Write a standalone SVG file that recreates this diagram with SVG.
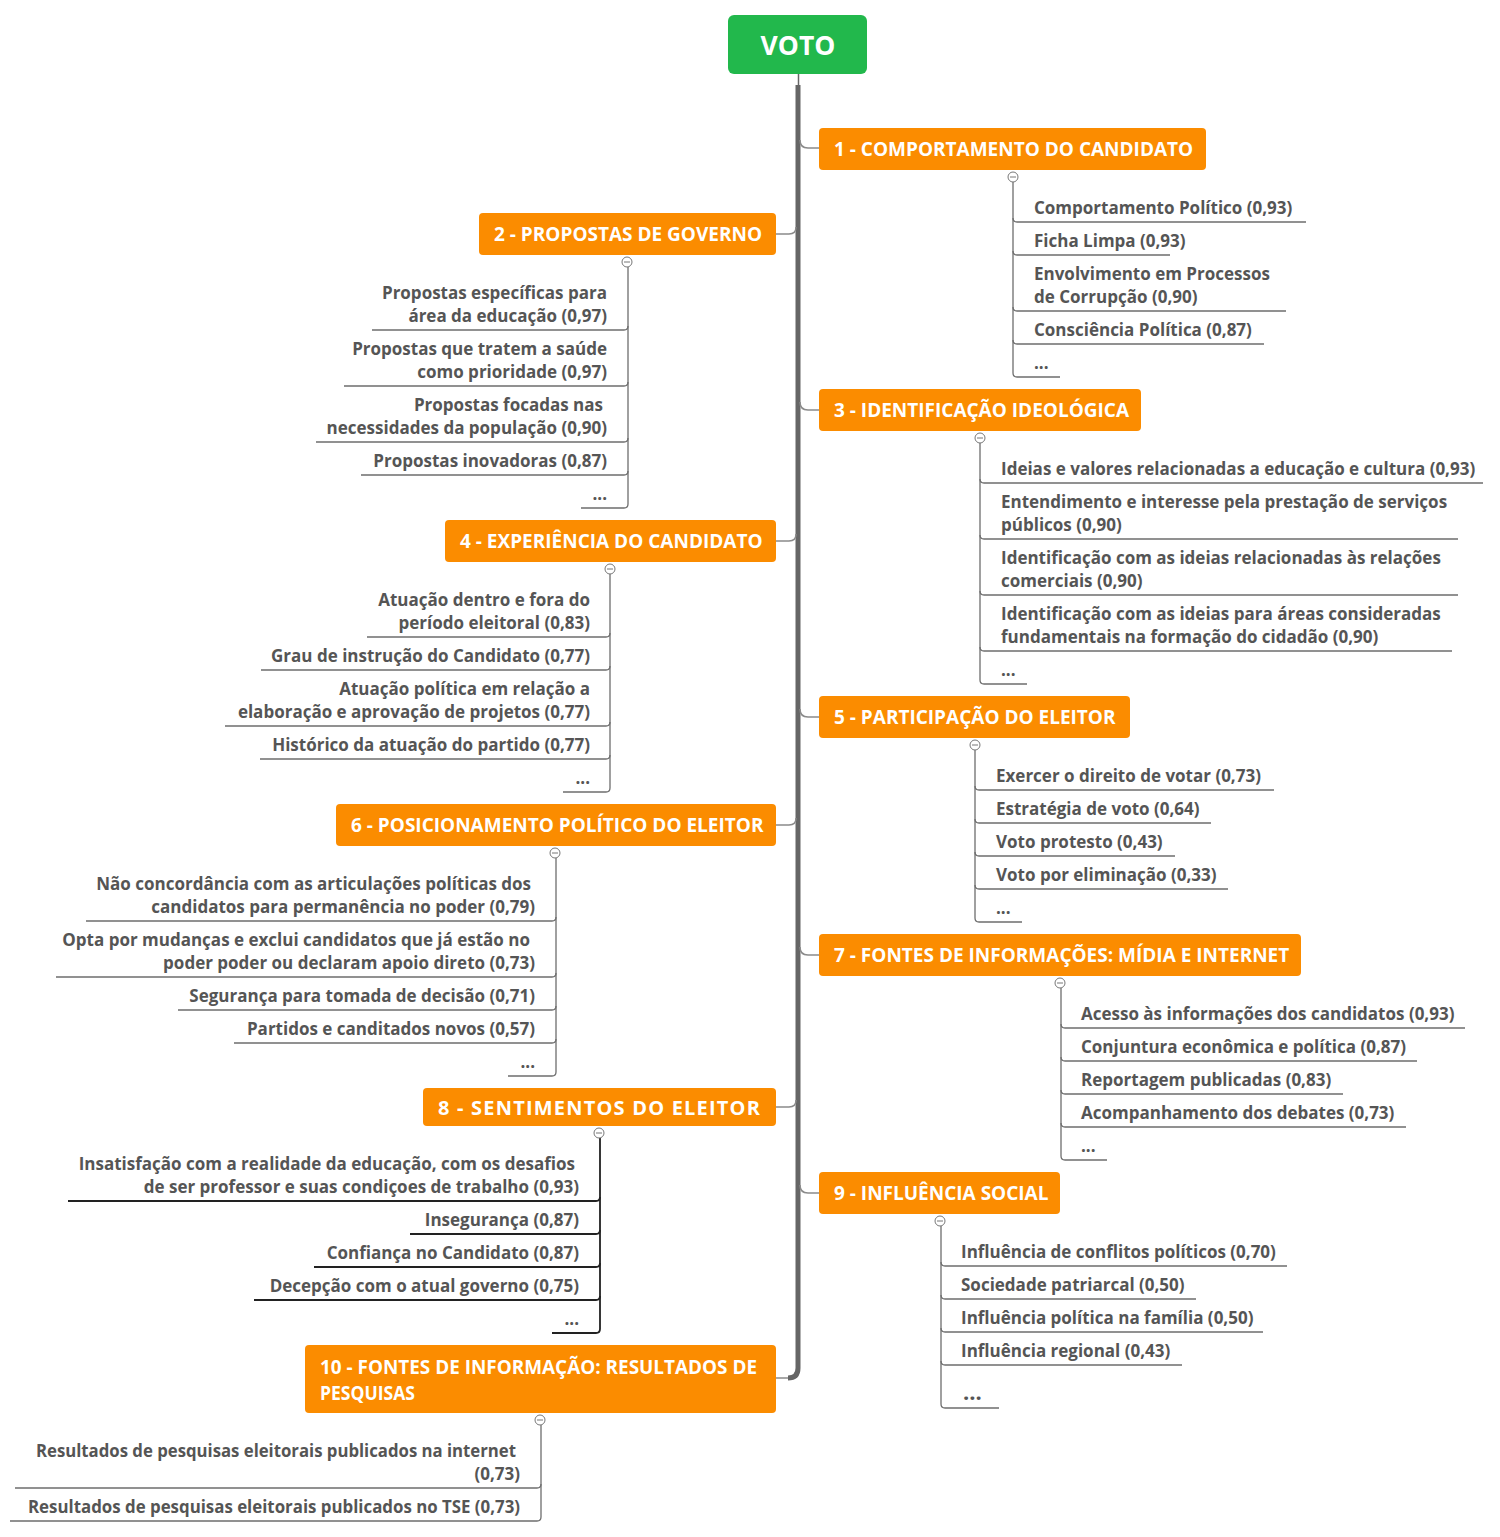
<svg xmlns="http://www.w3.org/2000/svg" width="1500" height="1537" viewBox="0 0 1500 1537">
<style>
  .title { font-family: "Open Sans", "Liberation Sans", sans-serif; font-weight: 700; font-size: 19px; fill: #ffffff; }
  .item { font-family: "Open Sans", "Liberation Sans", sans-serif; font-weight: 700; font-size: 17px; fill: #555555; }
  .itemL { font-family: "Open Sans", "Liberation Sans", sans-serif; font-weight: 700; font-size: 17px; fill: #555555; text-anchor: end; }
  .orange { fill: #fb8c00; }
  .branch { fill: none; stroke: #8a8a8a; stroke-width: 1.5; }
  .trunk { fill: none; stroke: #666666; stroke-width: 5; }
  .sub { fill: none; stroke: #6e6e6e; stroke-width: 1.3; }
  .subDark { fill: none; stroke: #222222; stroke-width: 1.8; }
  .toggle { fill: #ffffff; stroke: #777777; stroke-width: 1; }
  .toggleBar { stroke: #777777; stroke-width: 1; }
</style>
<rect width="1500" height="1537" fill="#ffffff"/>

<!-- connectors from the central topic to each branch -->
<g id="connectors">
  <line x1="798.5" y1="74" x2="798.5" y2="86" stroke="#666" stroke-width="1.5"/>
  <path class="trunk" d="M798 85 V1368 Q798 1378 788 1378"/>
  <path class="branch" d="M788 1378 H776"/>
  <!-- right side -->
  <path class="branch" d="M800 140 Q800 148 808 148 H819"/>
  <path class="branch" d="M800 402 Q800 410 808 410 H819"/>
  <path class="branch" d="M800 709 Q800 717 808 717 H819"/>
  <path class="branch" d="M800 947 Q800 955 808 955 H819"/>
  <path class="branch" d="M800 1185 Q800 1193 808 1193 H819"/>
  <!-- left side -->
  <path class="branch" d="M776 234 H789 Q796 234 796 227"/>
  <path class="branch" d="M776 541 H789 Q796 541 796 534"/>
  <path class="branch" d="M776 825 H789 Q796 825 796 818"/>
  <path class="branch" d="M776 1107 H789 Q796 1107 796 1100"/>
</g>

<!-- central topic -->
<g id="voto">
  <rect x="728" y="15" width="139" height="59" rx="6" fill="#22b84c"/>
  <text x="798" y="55" text-anchor="middle" style="font-family: 'Open Sans', 'Liberation Sans', sans-serif; font-weight: 700; font-size: 26.5px; fill: #fff;">VOTO</text>
</g>

<!-- 1 -->
<g id="n1">
  <rect class="orange" x="819" y="128" width="387" height="42" rx="4"/>
  <text class="title" x="834" y="156">1 - COMPORTAMENTO DO CANDIDATO</text>
  <path class="sub" d="M1013 182 V373 Q1013 377 1017 377 H1060"/>
  <path class="sub" d="M1013 218 Q1013 222 1017 222 H1306"/>
  <path class="sub" d="M1013 251 Q1013 255 1017 255 H1170"/>
  <path class="sub" d="M1013 307 Q1013 311 1017 311 H1286"/>
  <path class="sub" d="M1013 340 Q1013 344 1017 344 H1264"/>
  <circle class="toggle" cx="1013" cy="177" r="5"/><line class="toggleBar" x1="1010" y1="177" x2="1016" y2="177"/>
  <text class="item" x="1034" y="214">Comportamento Político (0,93)</text>
  <text class="item" x="1034" y="247">Ficha Limpa (0,93)</text>
  <text class="item" x="1034" y="280">Envolvimento em Processos</text>
  <text class="item" x="1034" y="303">de Corrupção (0,90)</text>
  <text class="item" x="1034" y="336">Consciência Política (0,87)</text>
  <text class="item" x="1034" y="369">...</text>
</g>

<!-- 2 -->
<g id="n2">
  <rect class="orange" x="479" y="213" width="297" height="42" rx="4"/>
  <text class="title" x="494" y="241">2 - PROPOSTAS DE GOVERNO</text>
  <path class="sub" d="M628 267 V504 Q628 508 624 508 H581"/>
  <path class="sub" d="M628 326 Q628 330 624 330 H372"/>
  <path class="sub" d="M628 382 Q628 386 624 386 H344"/>
  <path class="sub" d="M628 438 Q628 442 624 442 H316"/>
  <path class="sub" d="M628 471 Q628 475 624 475 H361"/>
  <circle class="toggle" cx="627" cy="262" r="5"/><line class="toggleBar" x1="624" y1="262" x2="630" y2="262"/>
  <text class="itemL" x="607" y="299">Propostas específicas para</text>
  <text class="itemL" x="607" y="322">área da educação (0,97)</text>
  <text class="itemL" x="607" y="355">Propostas que tratem a saúde</text>
  <text class="itemL" x="607" y="378">como prioridade (0,97)</text>
  <text class="itemL" x="603" y="411">Propostas focadas nas</text>
  <text class="itemL" x="607" y="434">necessidades da população (0,90)</text>
  <text class="itemL" x="607" y="467">Propostas inovadoras (0,87)</text>
  <text class="itemL" x="607" y="500">...</text>
</g>

<!-- 3 -->
<g id="n3">
  <rect class="orange" x="819" y="389" width="322" height="42" rx="4"/>
  <text class="title" x="834" y="417">3 - IDENTIFICAÇÃO IDEOLÓGICA</text>
  <path class="sub" d="M980 443 V680 Q980 684 984 684 H1027"/>
  <path class="sub" d="M980 479 Q980 483 984 483 H1483"/>
  <path class="sub" d="M980 535 Q980 539 984 539 H1458"/>
  <path class="sub" d="M980 591 Q980 595 984 595 H1458"/>
  <path class="sub" d="M980 647 Q980 651 984 651 H1452"/>
  <circle class="toggle" cx="980" cy="438" r="5"/><line class="toggleBar" x1="977" y1="438" x2="983" y2="438"/>
  <text class="item" x="1001" y="475">Ideias e valores relacionadas a educação e cultura (0,93)</text>
  <text class="item" x="1001" y="508">Entendimento e interesse pela prestação de serviços</text>
  <text class="item" x="1001" y="531">públicos (0,90)</text>
  <text class="item" x="1001" y="564">Identificação com as ideias relacionadas às relações</text>
  <text class="item" x="1001" y="587">comerciais (0,90)</text>
  <text class="item" x="1001" y="620">Identificação com as ideias para áreas consideradas</text>
  <text class="item" x="1001" y="643">fundamentais na formação do cidadão (0,90)</text>
  <text class="item" x="1001" y="676">...</text>
</g>

<!-- 4 -->
<g id="n4">
  <rect class="orange" x="445" y="520" width="331" height="42" rx="4"/>
  <text class="title" x="460" y="548">4 - EXPERIÊNCIA DO CANDIDATO</text>
  <path class="sub" d="M610 574 V788 Q610 792 606 792 H563"/>
  <path class="sub" d="M610 633 Q610 637 606 637 H367"/>
  <path class="sub" d="M610 666 Q610 670 606 670 H261"/>
  <path class="sub" d="M610 722 Q610 726 606 726 H225"/>
  <path class="sub" d="M610 755 Q610 759 606 759 H260"/>
  <circle class="toggle" cx="610" cy="569" r="5"/><line class="toggleBar" x1="607" y1="569" x2="613" y2="569"/>
  <text class="itemL" x="590" y="606">Atuação dentro e fora do</text>
  <text class="itemL" x="590" y="629">período eleitoral (0,83)</text>
  <text class="itemL" x="590" y="662">Grau de instrução do Candidato (0,77)</text>
  <text class="itemL" x="590" y="695">Atuação política em relação a</text>
  <text class="itemL" x="590" y="718">elaboração e aprovação de projetos (0,77)</text>
  <text class="itemL" x="590" y="751">Histórico da atuação do partido (0,77)</text>
  <text class="itemL" x="590" y="784">...</text>
</g>

<!-- 5 -->
<g id="n5">
  <rect class="orange" x="819" y="696" width="311" height="42" rx="4"/>
  <text class="title" x="834" y="724">5 - PARTICIPAÇÃO DO ELEITOR</text>
  <path class="sub" d="M975 750 V918 Q975 922 979 922 H1022"/>
  <path class="sub" d="M975 786 Q975 790 979 790 H1274"/>
  <path class="sub" d="M975 819 Q975 823 979 823 H1211"/>
  <path class="sub" d="M975 852 Q975 856 979 856 H1175"/>
  <path class="sub" d="M975 885 Q975 889 979 889 H1228"/>
  <circle class="toggle" cx="975" cy="745" r="5"/><line class="toggleBar" x1="972" y1="745" x2="978" y2="745"/>
  <text class="item" x="996" y="782">Exercer o direito de votar (0,73)</text>
  <text class="item" x="996" y="815">Estratégia de voto (0,64)</text>
  <text class="item" x="996" y="848">Voto protesto (0,43)</text>
  <text class="item" x="996" y="881">Voto por eliminação (0,33)</text>
  <text class="item" x="996" y="914">...</text>
</g>

<!-- 6 -->
<g id="n6">
  <rect class="orange" x="336" y="804" width="440" height="42" rx="4"/>
  <text class="title" x="351" y="832">6 - POSICIONAMENTO POLÍTICO DO ELEITOR</text>
  <path class="sub" d="M556 858 V1072 Q556 1076 552 1076 H508"/>
  <path class="sub" d="M556 917 Q556 921 552 921 H86"/>
  <path class="sub" d="M556 973 Q556 977 552 977 H56"/>
  <path class="sub" d="M556 1006 Q556 1010 552 1010 H178"/>
  <path class="sub" d="M556 1039 Q556 1043 552 1043 H234"/>
  <circle class="toggle" cx="555" cy="853" r="5"/><line class="toggleBar" x1="552" y1="853" x2="558" y2="853"/>
  <text class="itemL" x="531" y="890">Não concordância com as articulações políticas dos</text>
  <text class="itemL" x="535" y="913">candidatos para permanência no poder (0,79)</text>
  <text class="itemL" x="530" y="946">Opta por mudanças e exclui candidatos que já estão no</text>
  <text class="itemL" x="535" y="969">poder poder ou declaram apoio direto (0,73)</text>
  <text class="itemL" x="535" y="1002">Segurança para tomada de decisão (0,71)</text>
  <text class="itemL" x="535" y="1035">Partidos e canditados novos (0,57)</text>
  <text class="itemL" x="535" y="1068">...</text>
</g>

<!-- 7 -->
<g id="n7">
  <rect class="orange" x="819" y="934" width="482" height="42" rx="4"/>
  <text class="title" x="834" y="962">7 - FONTES DE INFORMAÇÕES: MÍDIA E INTERNET</text>
  <path class="sub" d="M1061 988 V1156 Q1061 1160 1065 1160 H1107"/>
  <path class="sub" d="M1061 1024 Q1061 1028 1065 1028 H1465"/>
  <path class="sub" d="M1061 1057 Q1061 1061 1065 1061 H1417"/>
  <path class="sub" d="M1061 1090 Q1061 1094 1065 1094 H1343"/>
  <path class="sub" d="M1061 1123 Q1061 1127 1065 1127 H1406"/>
  <circle class="toggle" cx="1060" cy="983" r="5"/><line class="toggleBar" x1="1057" y1="983" x2="1063" y2="983"/>
  <text class="item" x="1081" y="1020">Acesso às informações dos candidatos (0,93)</text>
  <text class="item" x="1081" y="1053">Conjuntura econômica e política (0,87)</text>
  <text class="item" x="1081" y="1086">Reportagem publicadas (0,83)</text>
  <text class="item" x="1081" y="1119">Acompanhamento dos debates (0,73)</text>
  <text class="item" x="1081" y="1152">...</text>
</g>

<!-- 8 -->
<g id="n8">
  <rect class="orange" x="423" y="1088" width="353" height="38" rx="4"/>
  <text class="title" x="438" y="1115" style="font-size: 20px; letter-spacing: 1.2px;">8 - SENTIMENTOS DO ELEITOR</text>
  <path class="subDark" d="M600 1138 V1329 Q600 1333 596 1333 H552"/>
  <path class="subDark" d="M600 1197 Q600 1201 596 1201 H68"/>
  <path class="subDark" d="M600 1230 Q600 1234 596 1234 H410"/>
  <path class="subDark" d="M600 1263 Q600 1267 596 1267 H314"/>
  <path class="subDark" d="M600 1296 Q600 1300 596 1300 H254"/>
  <circle class="toggle" cx="599" cy="1133" r="5"/><line class="toggleBar" x1="596" y1="1133" x2="602" y2="1133"/>
  <text class="itemL" x="575" y="1170">Insatisfação com a realidade da educação, com os desafios</text>
  <text class="itemL" x="579" y="1193">de ser professor e suas condiçoes de trabalho (0,93)</text>
  <text class="itemL" x="579" y="1226">Insegurança (0,87)</text>
  <text class="itemL" x="579" y="1259">Confiança no Candidato (0,87)</text>
  <text class="itemL" x="579" y="1292">Decepção com o atual governo (0,75)</text>
  <text class="itemL" x="579" y="1325">...</text>
</g>

<!-- 9 -->
<g id="n9">
  <rect class="orange" x="819" y="1172" width="241" height="42" rx="4"/>
  <text class="title" x="834" y="1200">9 - INFLUÊNCIA SOCIAL</text>
  <path class="sub" d="M941 1226 V1404 Q941 1408 945 1408 H999"/>
  <path class="sub" d="M941 1262 Q941 1266 945 1266 H1287"/>
  <path class="sub" d="M941 1295 Q941 1299 945 1299 H1196"/>
  <path class="sub" d="M941 1328 Q941 1332 945 1332 H1263"/>
  <path class="sub" d="M941 1361 Q941 1365 945 1365 H1182"/>
  <circle class="toggle" cx="940" cy="1221" r="5"/><line class="toggleBar" x1="937" y1="1221" x2="943" y2="1221"/>
  <text class="item" x="961" y="1258">Influência de conflitos políticos (0,70)</text>
  <text class="item" x="961" y="1291">Sociedade patriarcal (0,50)</text>
  <text class="item" x="961" y="1324">Influência política na família (0,50)</text>
  <text class="item" x="961" y="1357">Influência regional (0,43)</text>
  <text class="item" x="963" y="1400" style="font-size: 22px; font-weight: 700;">...</text>
</g>

<!-- 10 -->
<g id="n10">
  <rect class="orange" x="305" y="1345" width="471" height="68" rx="4"/>
  <text class="title" x="320" y="1374" textLength="437" lengthAdjust="spacingAndGlyphs">10 - FONTES DE INFORMAÇÃO: RESULTADOS DE</text>
  <text class="title" x="320" y="1400" textLength="95" lengthAdjust="spacingAndGlyphs">PESQUISAS</text>
  <path class="sub" d="M541 1425 V1517 Q541 1521 537 1521 H10"/>
  <path class="sub" d="M541 1484 Q541 1488 537 1488 H15"/>
  <circle class="toggle" cx="540" cy="1420" r="5"/><line class="toggleBar" x1="537" y1="1420" x2="543" y2="1420"/>
  <text class="itemL" x="516" y="1457" textLength="480" lengthAdjust="spacingAndGlyphs">Resultados de pesquisas eleitorais publicados na internet</text>
  <text class="itemL" x="520" y="1480">(0,73)</text>
  <text class="itemL" x="520" y="1513" textLength="492" lengthAdjust="spacingAndGlyphs">Resultados de pesquisas eleitorais publicados no TSE (0,73)</text>
</g>
</svg>
